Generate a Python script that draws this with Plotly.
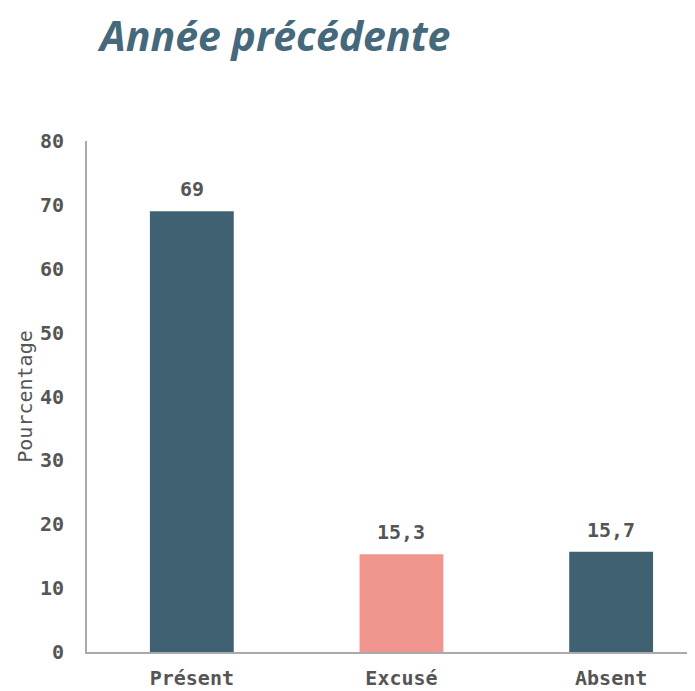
import plotly.graph_objects as go

categories = ["Présent", "Excusé", "Absent"]
values = [69, 15.3, 15.7]
colors = ["#3f6172", "#f0968f", "#3f6172"]
tick_vals = [0, 10, 20, 30, 40, 50, 60, 70, 80]
value_labels = [str(v).replace(".", ",") for v in values]

mono = "DejaVu Sans Mono"
W, H = 687, 683  # page body margin of 8px is compensated

fig = go.Figure(go.Bar(
    x=categories,
    y=values,
    marker=dict(color=colors, line=dict(width=0)),
    width=0.4,
    hoverinfo="x+y",
))

for c, v, t in zip(categories, values, value_labels):
    fig.add_annotation(
        x=c, y=v, text=t, showarrow=False,
        yanchor="middle", yshift=22,
        font=dict(family=mono, size=20, color="#555555", weight=700),
    )

fig.update_layout(
    width=W, height=H,
    margin=dict(l=79, r=0, t=133, b=39),
    paper_bgcolor="white", plot_bgcolor="white",
    showlegend=False,
    separators=", ",
    title=dict(
        text="Année précédente",
        x=92 / W, xanchor="left", xref="container",
        y=1 - 29 / H, yanchor="middle", yref="container",
        font=dict(family="Open Sans", size=41, color="#45687b", weight=700, style="italic"),
    ),
    xaxis=dict(
        range=[-0.5, 2.4],
        showline=True, linecolor="#aaaaaa", linewidth=2,
        showgrid=False, ticks="",
        ticklabelstandoff=7,
        tickfont=dict(family=mono, size=20, color="#555555", weight=700),
    ),
    yaxis=dict(
        range=[0, 80],
        tickvals=tick_vals,
        showline=True, linecolor="#aaaaaa", linewidth=2,
        showgrid=False, zeroline=False, ticks="",
        ticklabelstandoff=17,
        tickfont=dict(family=mono, size=20, color="#555555", weight=700),
        title=dict(text="Pourcentage", standoff=2,
                   font=dict(family=mono, size=20, color="#555555")),
    ),
)

fig.write_html("out.html")
